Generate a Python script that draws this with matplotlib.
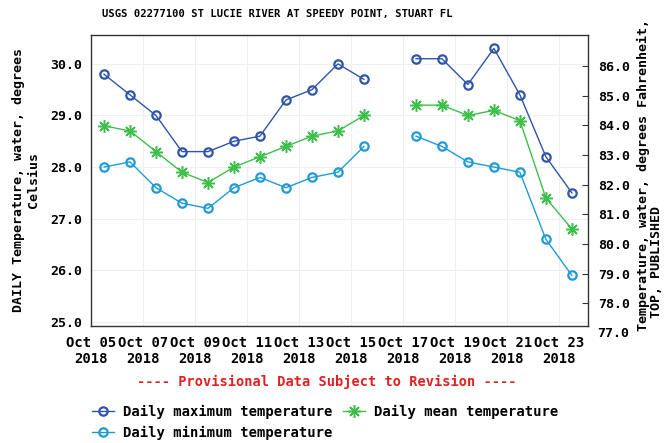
import numpy as np
import matplotlib
matplotlib.use("Agg")
import matplotlib.pyplot as plt
from matplotlib.transforms import blended_transform_factory

# ---- data ----
days = list(range(5, 24))  # Oct 5 .. Oct 23, 2018
nan = np.nan
t_max = [29.8, 29.4, 29.0, 28.3, 28.3, 28.5, 28.6, 29.3, 29.5, 30.0, 29.7, nan,
         30.1, 30.1, 29.6, 30.3, 29.4, 28.2, 27.5]
t_mean = [28.8, 28.7, 28.3, 27.9, 27.7, 28.0, 28.2, 28.4, 28.6, 28.7, 29.0, nan,
          29.2, 29.2, 29.0, 29.1, 28.9, 27.4, 26.8]
t_min = [28.0, 28.1, 27.6, 27.3, 27.2, 27.6, 27.8, 27.6, 27.8, 27.9, 28.4, nan,
         28.6, 28.4, 28.1, 28.0, 27.9, 26.6, 25.9]
xtick_days = [5, 7, 9, 11, 13, 15, 17, 19, 21, 23]
xtick_labels = ["Oct %02d\n2018" % d for d in xtick_days]
c_ticks = [25, 26, 27, 28, 29, 30]
f_ticks = [77, 78, 79, 80, 81, 82, 83, 84, 85, 86]

FONT = "DejaVu Sans Mono"
plt.rcParams['font.family'] = FONT
plt.rcParams['font.weight'] = 'bold'

W, H = 664, 443
fig = plt.figure(figsize=(W / 100, H / 100), dpi=100)
ax = fig.add_axes([91 / W, 1 - 326 / H, (588 - 91) / W, (326 - 35) / H])

c_max = "#2f55a8"
c_mean = "#3cc04a"
c_min = "#1e9bd6"

x = np.array(days, dtype=float)
ax.plot(x, t_max, color=c_max, lw=1.0, marker='o', ms=6, mfc='none',
        mec=c_max, mew=1.6, label="Daily maximum temperature")
ax.plot(x, t_min, color=c_min, lw=1.0, marker='o', ms=6, mfc='none',
        mec=c_min, mew=1.6, label="Daily minimum temperature")
ax.plot(x, t_mean, color=c_mean, lw=1.0, marker=(8, 2, 0), ms=9, mfc=c_mean,
        mec=c_mean, mew=1.1, label="Daily mean temperature")

ax.set_xlim(4.5, 23.62)
ax.set_ylim(24.92, 30.56)
ax.set_yticks(c_ticks)
ax.set_yticklabels(["%.1f" % v for v in c_ticks], fontsize=9.5, fontweight='bold')
ax.tick_params(axis='y', length=0, pad=6)
ax.set_xticks([d - 0.5 for d in xtick_days[1:]])
ax.set_xticklabels([])
ax.tick_params(axis='x', length=0)
ax.grid(True, color='#efefef', lw=0.8)
ax.set_axisbelow(True)
for s in ax.spines.values():
    s.set_color('#333333')
    s.set_linewidth(1.0)

# x tick labels (placed at midnight of each day)
tr = blended_transform_factory(ax.transData, ax.transAxes)
for d, lab in zip(xtick_days, xtick_labels):
    ax.text(d - 0.5, -0.035, lab, transform=tr, ha='center', va='top',
            fontsize=10, fontweight='bold', linespacing=1.2, clip_on=False)

# right axis (Fahrenheit)
ax2 = ax.twinx()
ax2.set_ylim(77.24, 87.04)
ax2.set_yticks(f_ticks[1:])
ax2.set_yticklabels(["%.1f" % v for v in f_ticks[1:]], fontsize=9.5, fontweight='bold')
ax2.tick_params(axis='y', direction='in', length=4, pad=7, color='#333333')
for s in ax2.spines.values():
    s.set_visible(False)
tr2 = blended_transform_factory(ax2.transAxes, ax2.transData)
ax2.text(1.0 + 7 / 497 + 0.004, f_ticks[0], "%.1f" % f_ticks[0], transform=tr2,
         ha='left', va='center', fontsize=9.5, fontweight='bold', clip_on=False)

# titles and labels
fig.text(277 / W, 1 - 14 / H, "USGS 02277100 ST LUCIE RIVER AT SPEEDY POINT, STUART FL",
         ha='center', va='center', fontsize=7.6, fontweight='bold')
fig.text(26 / W, 1 - 180 / H, "DAILY Temperature, water, degrees\nCelsius",
         rotation=90, ha='center', va='center', multialignment='center',
         fontsize=9.5, fontweight='bold', linespacing=1.1)
fig.text(643 / W, 1 - 175 / H, "Temperature, water, degrees Fahrenheit,",
         rotation=90, ha='center', va='center', fontsize=9.6, fontweight='bold')
fig.text(656 / W, 1 - 262 / H, "TOP, PUBLISHED",
         rotation=90, ha='center', va='center', fontsize=9.6, fontweight='bold')
fig.text(327 / W, 1 - 382 / H, "---- Provisional Data Subject to Revision ----",
         ha='center', va='center', fontsize=9.8, fontweight='bold', color='#e02020')

handles, labels = ax.get_legend_handles_labels()
leg = fig.legend(handles, labels, loc='upper left', bbox_to_anchor=(92 / W, 1 - 405 / H),
                 ncol=2, frameon=False, fontsize=10, handlelength=1.6,
                 handletextpad=0.6, columnspacing=0.8, labelspacing=0.45,
                 borderpad=0, borderaxespad=0)
for t in leg.get_texts():
    t.set_fontweight('bold')

fig.savefig("out.png", dpi=100)
